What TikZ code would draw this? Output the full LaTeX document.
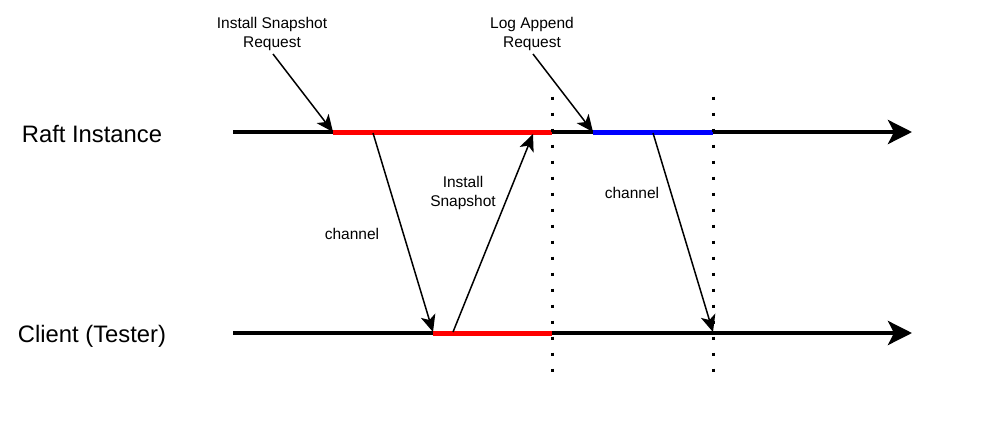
\documentclass[tikz,border=0pt]{standalone}
\usepackage{fontspec}
\setmainfont{Liberation Sans}
\usetikzlibrary{arrows.meta}
\begin{document}
\begin{tikzpicture}[x=1pt,y=-1pt,
  bigarrow/.style={line width=4pt,-{Stealth[length=24pt,width=24pt,inset=6pt]}},
  thinarrow/.style={line width=1.5pt,-{Stealth[length=17pt,width=15pt,inset=4.5pt]}},
  seg/.style={line width=5pt},
  dotline/.style={line width=3pt,dash pattern=on 3pt off 13pt},
  biglabel/.style={font=\fontsize{23.8}{28}\selectfont,inner sep=0pt,anchor=base},
  smalllabel/.style={font=\fontsize{15.5}{19}\selectfont,align=center,inner sep=0pt}]
\useasboundingbox[fill=white] (0,0) rectangle (998,444);

% coordinates
\coordinate (t0) at (233,132);
\coordinate (t1) at (912,132);
\coordinate (b0) at (233,333);
\coordinate (b1) at (912,333);
\coordinate (rs) at (333,132);
\coordinate (re) at (552,132);
\coordinate (bs) at (593,132);
\coordinate (be) at (713,132);
\coordinate (crs) at (433,333);
\coordinate (cre) at (552,333);
\coordinate (d1a) at (552,96.5);
\coordinate (d1b) at (552,372);
\coordinate (d2a) at (713,96.5);
\coordinate (d2b) at (713,372);
\coordinate (isrq) at (273,54);
\coordinate (larq) at (533,54);
\coordinate (ch1s) at (373,133);
\coordinate (ch1e) at (433,332);
\coordinate (iss) at (453,332);
\coordinate (ise) at (533,134);
\coordinate (ch2s) at (653,133);
\coordinate (ch2e) at (713,332);

% labels
\node[biglabel] (raft) at (92,142) {Raft Instance};
\node[biglabel] (client) at (92,342) {Client (Tester)};
\node[smalllabel] (lisr) at (272,33.5) {Install Snapshot\\Request};
\node[smalllabel] (lla) at (532,33.5) {Log Append\\Request};
\node[smalllabel] (lch1) at (352,233.5) {channel};
\node[smalllabel] (lis) at (463,193) {Install\\Snapshot};
\node[smalllabel] (lch2) at (632,193) {channel};

% main lines
\draw[bigarrow] (t0) -- (t1);
\draw[bigarrow] (b0) -- (b1);

% segments
\draw[seg,red] (rs) -- (re);
\draw[seg,blue] (bs) -- (be);
\draw[seg,red] (crs) -- (cre);

% dotted lines
\draw[dotline] (d1a) -- (d1b);
\draw[dotline] (d2a) -- (d2b);

% arrows
\draw[thinarrow] (isrq) -- (rs);
\draw[thinarrow] (larq) -- (bs);
\draw[thinarrow] (ch1s) -- (ch1e);
\draw[thinarrow] (iss) -- (ise);
\draw[thinarrow] (ch2s) -- (ch2e);
\end{tikzpicture}
\end{document}
